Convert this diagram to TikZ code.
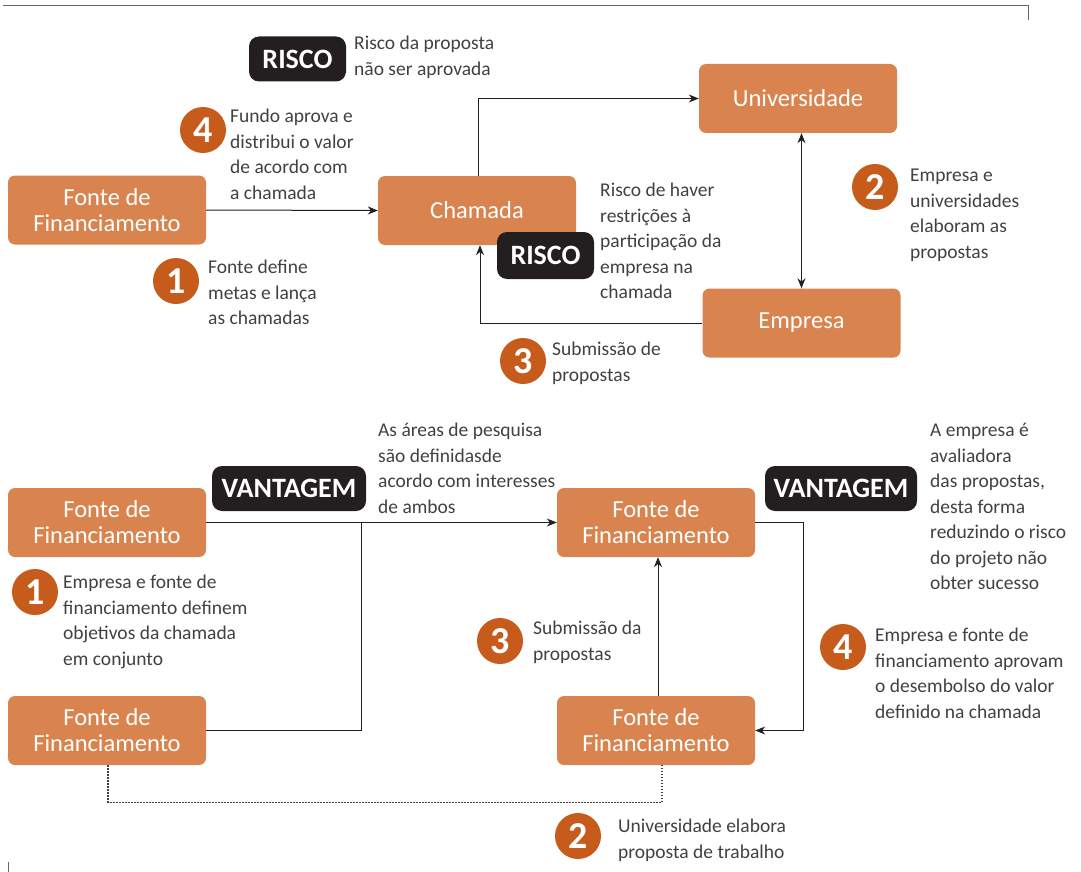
\documentclass[tikz,border=0pt]{standalone}
\usepackage{fontspec}
\setmainfont{Carlito}
\usetikzlibrary{arrows.meta}
\definecolor{boxc}{HTML}{D9844F}
\definecolor{numc}{HTML}{C65B1C}
\definecolor{badgec}{HTML}{231F20}
\definecolor{txtc}{HTML}{414042}
\definecolor{linec}{HTML}{231F20}
\begin{document}
\begin{tikzpicture}[x=1pt,y=-1pt,
  box/.style={fill=boxc, rounded corners=7pt, text=white, align=center,
    minimum width=198pt, minimum height=69pt, inner sep=0pt,
    font=\fontsize{24.5}{26}\selectfont},
  badge/.style={fill=badgec, rounded corners=10pt, text=white, inner sep=0pt,
    minimum height=45pt, font=\fontsize{28}{30}\selectfont\bfseries},
  num/.style={circle, fill=numc, text=white, minimum size=46pt, inner sep=0pt,
    font=\fontsize{38}{40}\selectfont\bfseries},
  txt/.style={anchor=north west, align=left, inner sep=0pt, text=txtc,
    font=\fontsize{19.5}{25.5}\selectfont},
  conn/.style={draw=linec, line width=1pt, -{Stealth[length=10pt,width=8pt]}},
  conn2/.style={draw=linec, line width=1pt, {Stealth[length=10pt,width=8pt]}-{Stealth[length=10pt,width=8pt]}},
  plain/.style={draw=linec, line width=1pt},
  dots/.style={draw=txtc, line width=1.3pt, dash pattern=on 1.5pt off 1.5pt},
  frame/.style={draw=gray!80!black, line width=1pt}]
\useasboundingbox (0,0) rectangle (1081,872);
% frame marks
\draw[frame] (3,6) -- (1028,6) -- (1028,20);
\draw[frame] (8,862) -- (8,872);

% ===== top section =====
\node[box] (fA) at (107,210) {Fonte de\\Financiamento};
\node[box] (cham) at (477,210.5) {Chamada};
\node[box] (univ) at (798,98.5) {Universidade};
\node[box] (emp) at (801.5,323) {Empresa};

\node[badge, minimum width=97pt] (r1) at (297.5,59) {RISCO};
\node[txt] (r1t) at (354,36) {Risco da proposta\\não ser aprovada};

\node[num] (n4) at (203,130) {4};
\node[txt] (t4) at (230,109) {Fundo aprova e\\distribui o valor\\de acordo com\\a chamada};

\node[num] (n1) at (176,281) {1};
\node[txt] (t1) at (208,260) {Fonte define\\metas e lança\\as chamadas};

\node[num] (n2) at (875,187) {2};
\node[txt] (t2) at (910,169) {Empresa e\\universidades\\elaboram as\\propostas};

\node[txt] (r2t) at (600,183) {Risco de haver\\restrições à\\participação da\\empresa na\\chamada};

\node[num] (n3) at (523,361) {3};
\node[txt] (t3) at (552,342) {Submissão de\\propostas};

\draw[conn] (fA.east) -- (cham.west);
\draw[conn] ([xshift=1pt]cham.north) |- (univ.west);
\draw[conn2] (univ.south -| emp.north) -- (emp.north);
\draw[conn] (emp.west) -| ([xshift=3pt]cham.south);

\node[badge, minimum width=97pt, minimum height=47pt] (r2) at (545.5,255.5) {RISCO};

% ===== bottom section =====
\node[box] (bA) at (107,522.5) {Fonte de\\Financiamento};
\node[box] (bB) at (107,730.5) {Fonte de\\Financiamento};
\node[box] (bC) at (656,522.5) {Fonte de\\Financiamento};
\node[box] (bD) at (656,730.5) {Fonte de\\Financiamento};

\node[badge, minimum width=154pt] (v1) at (289,488.5) {VANTAGEM};
\node[txt] (v1t) at (378,423) {As áreas de pesquisa\\são definidasde\\acordo com interesses\\de ambos};

\node[badge, minimum width=152pt] (v2) at (841,488.5) {VANTAGEM};
\node[txt] (v2t) at (930,423) {A empresa é\\avaliadora\\das propostas,\\desta forma\\reduzindo o risco\\do projeto não\\obter sucesso};

\node[num] (m1) at (35,592) {1};
\node[txt] (m1t) at (63,575) {Empresa e fonte de\\financiamento definem\\objetivos da chamada\\em conjunto};

\node[num] (m3) at (500,641) {3};
\node[txt] (m3t) at (533,621) {Submissão da\\propostas};

\node[num] (m4) at (843,647) {4};
\node[txt] (m4t) at (875,628) {Empresa e fonte de\\financiamento aprovam\\o desembolso do valor\\definido na chamada};

\node[num] (m2) at (578,836) {2};
\node[txt] (m2t) at (618,819) {Universidade elabora\\proposta de trabalho};

\coordinate (join) at (361,522.5);
\draw[conn] (bA.east) -- (bC.west);
\draw[plain] (bB.east) -| (join);
\draw[conn] (bC.east) -- ++(48,0) |- (bD.east);
\draw[conn] ([xshift=2pt]bD.north) -- ([xshift=2pt]bC.south);
\draw[dots] ([xshift=1pt]bB.south) -- ++(0,37) -| ([xshift=6pt]bD.south);
\end{tikzpicture}
\end{document}
